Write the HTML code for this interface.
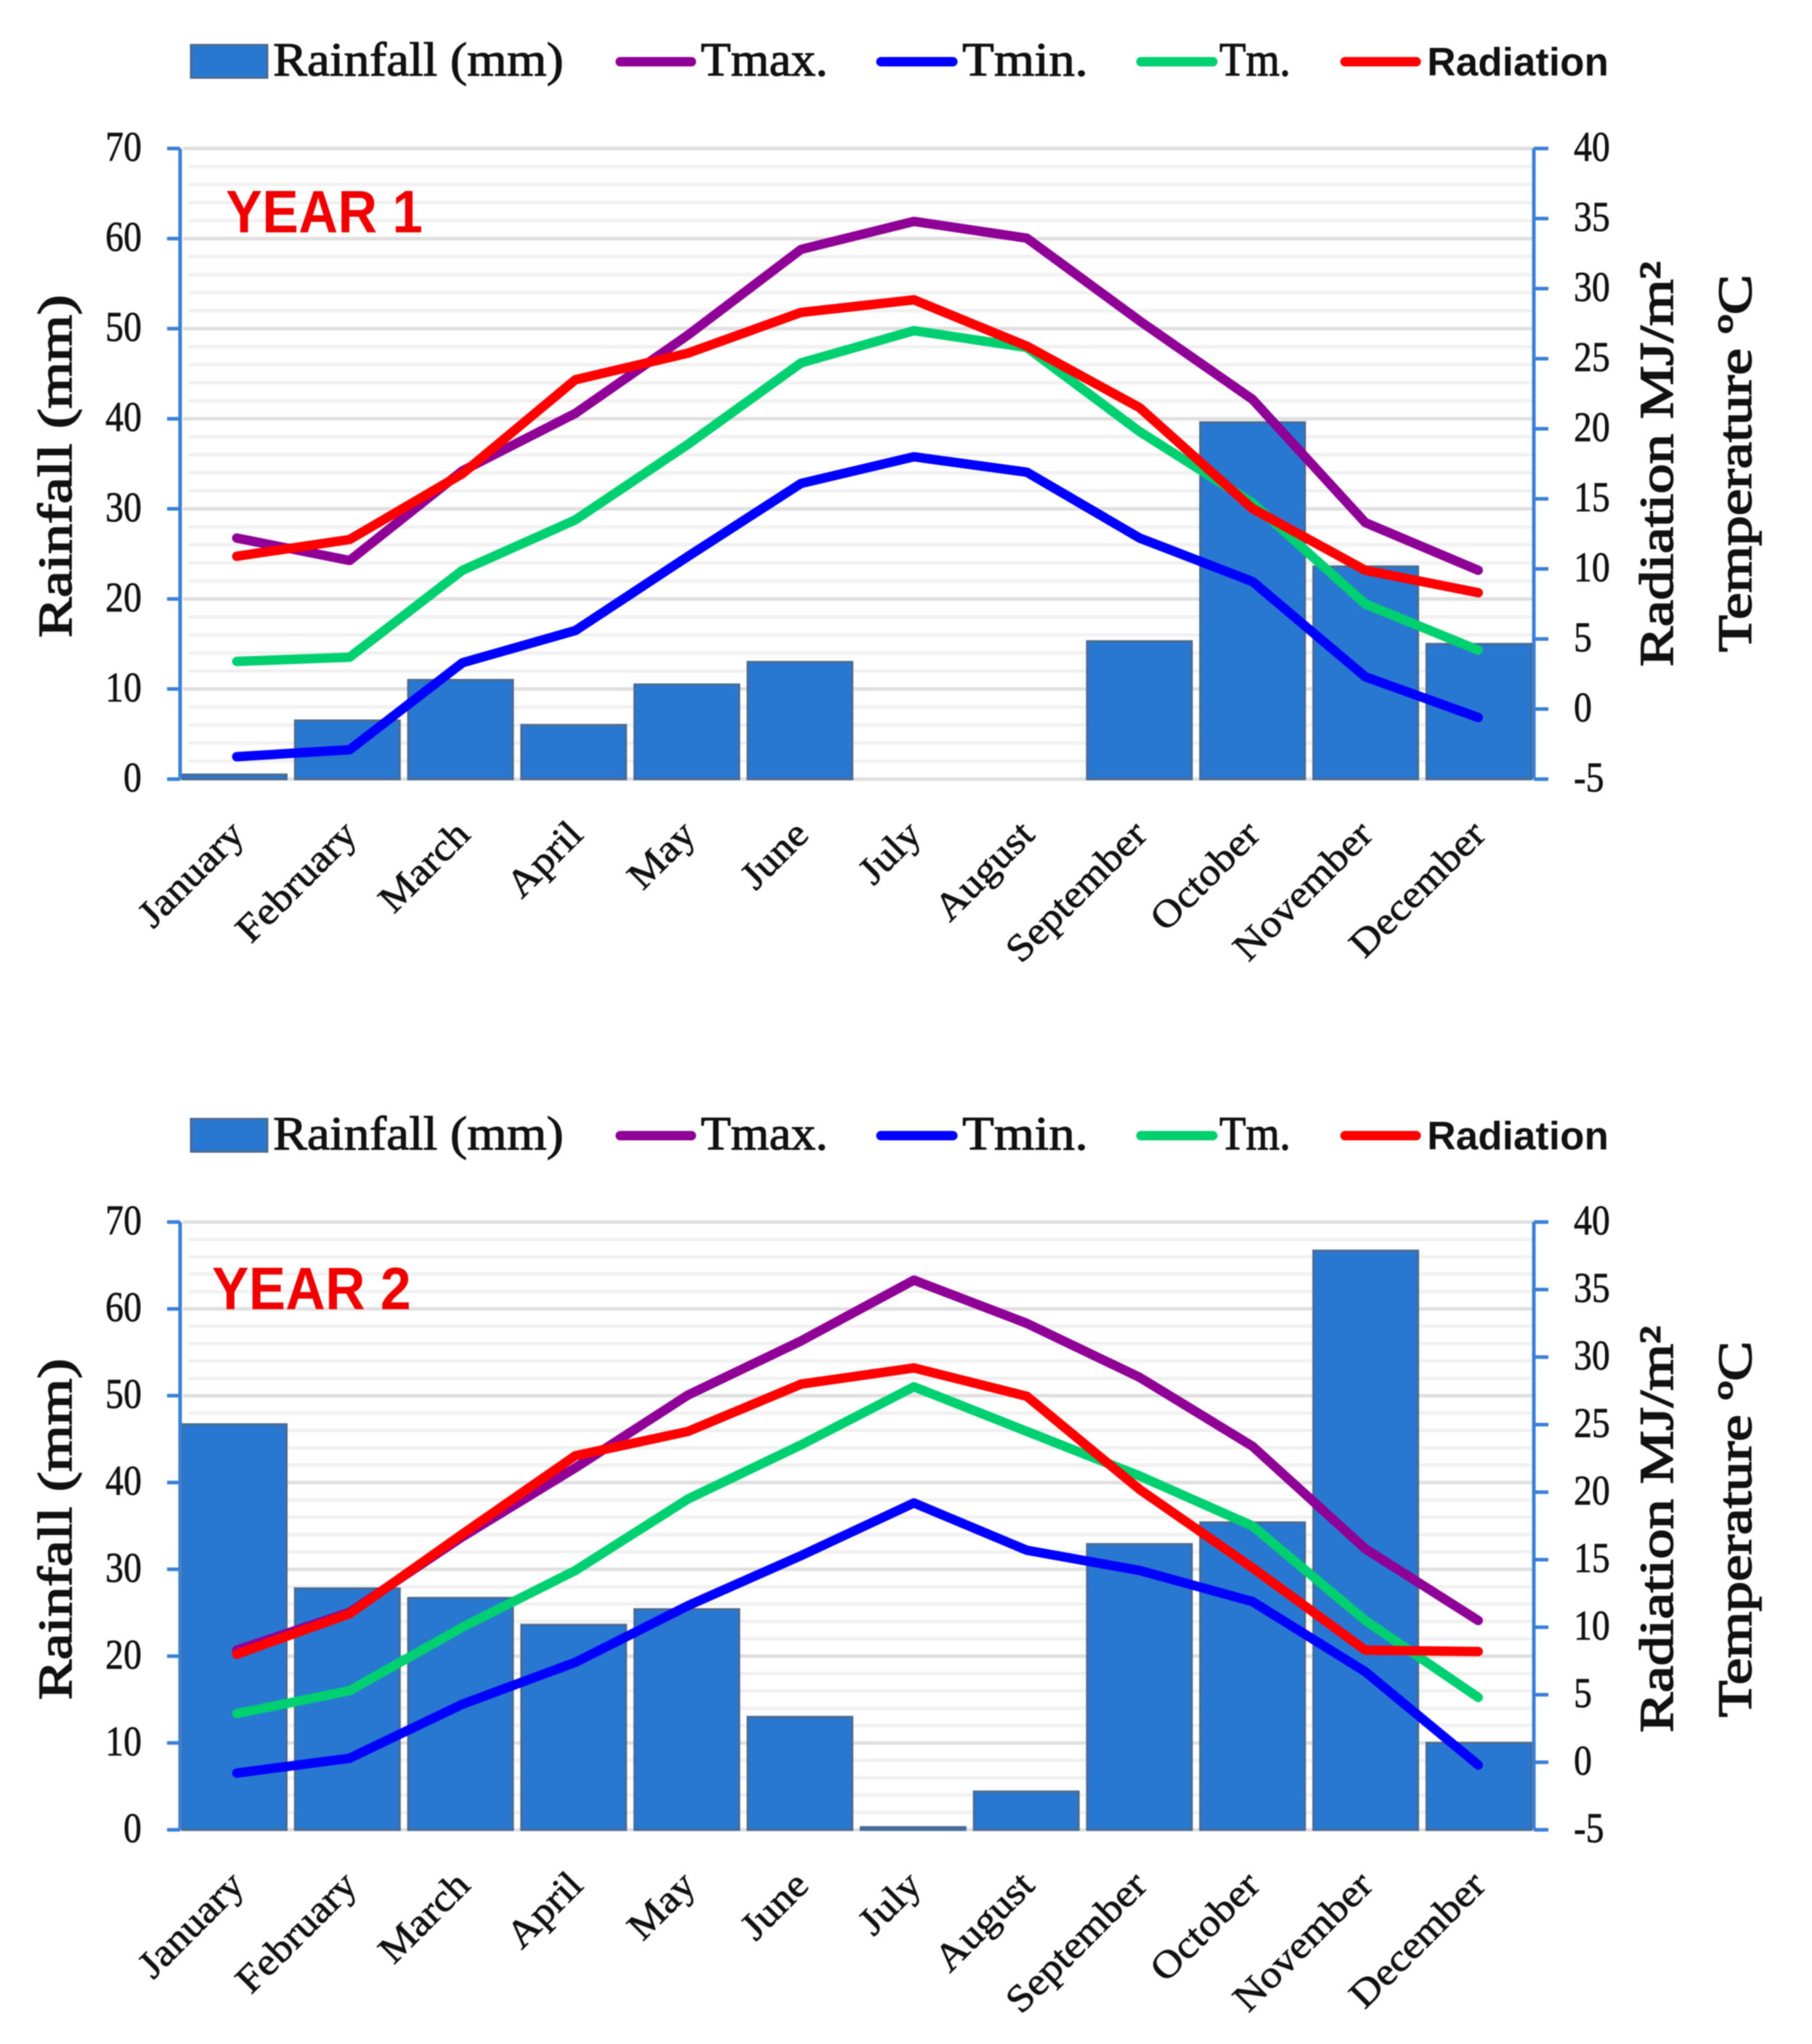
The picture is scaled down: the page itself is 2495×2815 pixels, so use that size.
<!DOCTYPE html>
<html lang="en">
<head>
<meta charset="utf-8">
<title>Monthly rainfall, temperature and radiation, Year 1 and Year 2</title>
<style>
html,body{margin:0;padding:0;background:#fff;width:2495px;height:2815px;overflow:hidden}
svg{display:block;filter:blur(.9px)}
text{font-family:"Liberation Serif",serif;fill:#111;stroke:#111;stroke-width:.8px}
.sans{font-family:"Liberation Sans",sans-serif;font-weight:bold;stroke-width:0}
.legend-text{font-size:66px;stroke-width:1.2px}
.axis-title{font-size:66px;stroke-width:1.8px}
.year{font-family:"Liberation Sans",sans-serif;font-weight:bold;font-size:83px;fill:#f00000;stroke:none}
</style>
</head>
<body>
<svg id="figure" xmlns="http://www.w3.org/2000/svg" width="2495" height="2815" viewBox="0 0 2495 2815">
  <rect width="2495" height="2815" fill="#fff"/>

  <g id="chart1"></g>
  <g id="chart2"></g>

  <g>
    <rect x="263" y="62" width="105" height="45" fill="#2878d2" stroke="#4a6a90" stroke-width="3"/>
    <text class="legend-text" x="376" y="104" textLength="400" lengthAdjust="spacingAndGlyphs">Rainfall (mm)</text>
    <line x1="854" y1="85" x2="952" y2="85" stroke="#8f0096" stroke-width="13" stroke-linecap="round"/>
    <text class="legend-text" x="965" y="104" textLength="175" lengthAdjust="spacingAndGlyphs">Tmax.</text>
    <line x1="1213" y1="85" x2="1312" y2="85" stroke="#0000ff" stroke-width="13" stroke-linecap="round"/>
    <text class="legend-text" x="1325" y="104" textLength="173" lengthAdjust="spacingAndGlyphs">Tmin.</text>
    <line x1="1571" y1="85" x2="1670" y2="85" stroke="#00d070" stroke-width="13" stroke-linecap="round"/>
    <text class="legend-text" x="1679" y="104" textLength="98" lengthAdjust="spacingAndGlyphs">Tm.</text>
    <line x1="1852" y1="85" x2="1950" y2="85" stroke="#ff0000" stroke-width="13" stroke-linecap="round"/>
    <text class="sans" font-size="55" x="1965" y="104" textLength="250" lengthAdjust="spacingAndGlyphs">Radiation</text>
  </g>

  <g>
    <rect x="263" y="1541" width="105" height="45" fill="#2878d2" stroke="#4a6a90" stroke-width="3"/>
    <text class="legend-text" x="376" y="1583" textLength="400" lengthAdjust="spacingAndGlyphs">Rainfall (mm)</text>
    <line x1="854" y1="1564" x2="952" y2="1564" stroke="#8f0096" stroke-width="13" stroke-linecap="round"/>
    <text class="legend-text" x="965" y="1583" textLength="175" lengthAdjust="spacingAndGlyphs">Tmax.</text>
    <line x1="1213" y1="1564" x2="1312" y2="1564" stroke="#0000ff" stroke-width="13" stroke-linecap="round"/>
    <text class="legend-text" x="1325" y="1583" textLength="173" lengthAdjust="spacingAndGlyphs">Tmin.</text>
    <line x1="1571" y1="1564" x2="1670" y2="1564" stroke="#00d070" stroke-width="13" stroke-linecap="round"/>
    <text class="legend-text" x="1679" y="1583" textLength="98" lengthAdjust="spacingAndGlyphs">Tm.</text>
    <line x1="1852" y1="1564" x2="1950" y2="1564" stroke="#ff0000" stroke-width="13" stroke-linecap="round"/>
    <text class="sans" font-size="55" x="1965" y="1583" textLength="250" lengthAdjust="spacingAndGlyphs">Radiation</text>
  </g>

  <text class="year" x="311" y="320" textLength="271" lengthAdjust="spacingAndGlyphs">YEAR 1</text>
  <text class="year" x="292" y="1803" textLength="274" lengthAdjust="spacingAndGlyphs">YEAR 2</text>

  <text class="axis-title" transform="translate(98,878) rotate(-90)" textLength="472" lengthAdjust="spacingAndGlyphs">Rainfall (mm)</text>
  <text class="axis-title" transform="translate(2303,918) rotate(-90)" textLength="558" lengthAdjust="spacingAndGlyphs">Radiation MJ/m²</text>
  <text class="axis-title" transform="translate(2411,898) rotate(-90)" textLength="520" lengthAdjust="spacingAndGlyphs">Temperature ºC</text>

  <text class="axis-title" transform="translate(98,2341) rotate(-90)" textLength="470" lengthAdjust="spacingAndGlyphs">Rainfall (mm)</text>
  <text class="axis-title" transform="translate(2303,2386) rotate(-90)" textLength="560" lengthAdjust="spacingAndGlyphs">Radiation MJ/m²</text>
  <text class="axis-title" transform="translate(2411,2365) rotate(-90)" textLength="518" lengthAdjust="spacingAndGlyphs">Temperature ºC</text>
</svg>

<script>
var months = ['January','February','March','April','May','June','July','August','September','October','November','December'];
var leftTicks = [0,10,20,30,40,50,60,70];
var rightTicks = [-5,0,5,10,15,20,25,30,35,40];

var year1Rainfall = [0.5,6.5,11,6,10.5,13,0,0,15.3,39.6,23.6,15];
var year1Tmax = [12.2,10.6,17.0,21.1,26.7,32.8,34.8,33.6,27.7,22.1,13.3,9.9];
var year1Tmin = [-3.4,-2.9,3.3,5.6,10.9,16.1,18,16.9,12.2,9.1,2.3,-0.6];
var year1Tm = [3.4,3.7,9.9,13.5,18.9,24.7,27,25.8,19.8,14.7,7.5,4.2];
var year1Radiation = [10.9,12.1,16.8,23.5,25.4,28.3,29.2,25.9,21.5,14.3,9.9,8.3];

var year2Rainfall = [46.7,27.8,26.7,23.6,25.4,13,0.3,4.4,32.9,35.4,66.7,10];
var year2Tmax = [8.3,11.1,16.7,21.8,27.2,31.2,35.7,32.5,28.5,23.4,15.8,10.5];
var year2Tmin = [-0.8,0.3,4.3,7.4,11.6,15.3,19.2,15.7,14.2,11.9,6.7,-0.2];
var year2Tm = [3.6,5.3,10,14.2,19.5,23.5,27.8,24.5,21.2,17.5,10.5,4.8];
var year2Radiation = [8,11,16.9,22.7,24.5,28,29.2,27.1,20.2,14.4,8.3,8.2];

var NS = 'http://www.w3.org/2000/svg';
var PLOT_LEFT = 248, PLOT_RIGHT = 2112;

function make(parent, tag, attrs) {
  var el = document.createElementNS(NS, tag);
  for (var k in attrs) el.setAttribute(k, attrs[k]);
  parent.appendChild(el);
  return el;
}
function lineX(i) { return 326 + 155.4 * i; }
function barCenter(i) { return 322.5 + 155.8 * i; }

function drawChart(rootId, top, bottom, rainfall, tmax, tmin, tm, radiation) {
  var root = document.getElementById(rootId);
  function yLeft(v) { return bottom - (v / 70) * (bottom - top); }
  function yRight(v) { return bottom - ((v + 5) / 45) * (bottom - top); }

  for (var m = 0; m < 70; m += 2) {
    if (m % 10 === 0) continue;
    var minor = make(root, 'line', {x1: 259, x2: PLOT_RIGHT, y1: yLeft(m), y2: yLeft(m), stroke: '#f1f1f1', 'stroke-width': 5});
    
    
  }
  leftTicks.forEach(function (t) {
    var grid = make(root, 'line', {x1: 252, x2: PLOT_RIGHT, y1: yLeft(t), y2: yLeft(t), stroke: '#e0e0e0', 'stroke-width': 5});
    
    
  });

  rainfall.forEach(function (v, i) {
    var h = yLeft(0) - yLeft(v);
    var bar = make(root, 'rect', {x: barCenter(i) - 72, y: yLeft(v), width: 144, height: h, fill: '#2878d2', stroke: '#4a6a90', 'stroke-width': 3});
    
    
  });

  var leftAxis = make(root, 'line', {x1: PLOT_LEFT, x2: PLOT_LEFT, y1: top, y2: bottom, stroke: '#3a80d8', 'stroke-width': 5});
  
  
  var rightAxis = make(root, 'line', {x1: PLOT_RIGHT, x2: PLOT_RIGHT, y1: top, y2: bottom, stroke: '#3a80d8', 'stroke-width': 5});
  
  

  leftTicks.forEach(function (t) {
    var tick = make(root, 'line', {x1: 230, x2: PLOT_LEFT, y1: yLeft(t), y2: yLeft(t), stroke: '#3a80d8', 'stroke-width': 5});
    
    
    var label = make(root, 'text', {transform: 'translate(195,' + (yLeft(t) + 17) + ') scale(.86,1)', 'text-anchor': 'end', 'font-size': 58});
    label.textContent = t;
    
    
  });
  rightTicks.forEach(function (t) {
    var tick = make(root, 'line', {x1: PLOT_RIGHT, x2: 2132, y1: yRight(t), y2: yRight(t), stroke: '#3a80d8', 'stroke-width': 5});
    
    
    var label = make(root, 'text', {transform: 'translate(2167,' + (yRight(t) + 17) + ') scale(.86,1)', 'font-size': 58});
    label.textContent = t;
    
    
  });

  months.forEach(function (name, i) {
    var label = make(root, 'text', {transform: 'translate(' + (lineX(i) + 13) + ',' + (bottom + 79) + ') rotate(-45) scale(1.1,1)', 'text-anchor': 'end', 'font-size': 53});
    label.textContent = name;
    
    
  });

  var series = [
    {key: 'tmax', values: tmax, color: '#8f0096'},
    {key: 'tmin', values: tmin, color: '#0000ff'},
    {key: 'tm', values: tm, color: '#00d070'},
    {key: 'radiation', values: radiation, color: '#ff0000'}
  ];
  series.forEach(function (s) {
    var pts = s.values.map(function (v, i) { return lineX(i).toFixed(1) + ',' + yRight(v).toFixed(1); }).join(' ');
    var line = make(root, 'polyline', {points: pts, fill: 'none', stroke: s.color, 'stroke-width': 13, 'stroke-linecap': 'round', 'stroke-linejoin': 'round'});
    
    
  });
}

drawChart('chart1', 204.5, 1073, year1Rainfall, year1Tmax, year1Tmin, year1Tm, year1Radiation);
drawChart('chart2', 1683, 2520, year2Rainfall, year2Tmax, year2Tmin, year2Tm, year2Radiation);
</script>
</body>
</html>
